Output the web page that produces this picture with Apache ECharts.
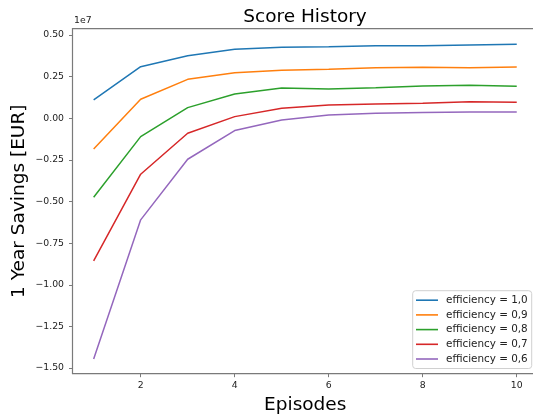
<!DOCTYPE html>
<html>
<head>
<meta charset="utf-8">
<script src="https://cdn.jsdelivr.net/npm/echarts@6/dist/echarts.min.js"></script>
<style>
  html, body { margin: 0; padding: 0; background: #fff; overflow: hidden; }
  /* the plot area runs slightly past the right edge of the window */
  #chart { width: 540px; height: 418px; }
</style>
</head>
<body>
<div id="chart"></div>
<script>
// Episodes on the x axis
const episodes = [1, 2, 3, 4, 5, 6, 7, 8, 9, 10];

// One year savings in EUR per efficiency level
const eff10 = [1100000, 3100000, 3760000, 4140000, 4260000, 4300000, 4360000, 4360000, 4400000, 4440000];
const eff09 = [-1840000, 1140000, 2340000, 2740000, 2880000, 2940000, 3040000, 3060000, 3040000, 3080000];
const eff08 = [-4740000, -1100000, 640000, 1460000, 1820000, 1760000, 1840000, 1940000, 1980000, 1920000];
const eff07 = [-8560000, -3360000, -900000, 100000, 600000, 800000, 860000, 900000, 1000000, 960000];
const eff06 = [-14460000, -6100000, -2460000, -740000, -100000, 200000, 300000, 340000, 380000, 380000];

const seriesNames = ['efficiency = 1,0', 'efficiency = 0,9', 'efficiency = 0,8', 'efficiency = 0,7', 'efficiency = 0,6'];
const seriesData = [eff10, eff09, eff08, eff07, eff06];
const colors = ['#1f77b4', '#ff7f0e', '#2ca02c', '#d62728', '#9467bd'];

// Tick positions
const xTicks = [2, 4, 6, 8, 10];
const yTicks = [-15000000, -12500000, -10000000, -7500000, -5000000, -2500000, 0, 2500000, 5000000];

const FONT = 'DejaVu Sans';
const spine = '#7a7a7a';

const chart = echarts.init(document.getElementById('chart'), null, { renderer: 'canvas' });

chart.setOption({
  animation: false,
  color: colors,
  textStyle: { fontFamily: FONT },
  title: {
    text: 'Score History',
    left: 305, top: 7.5, padding: 0,
    textAlign: 'center',
    textStyle: { fontFamily: FONT, fontSize: 18.5, fontWeight: 'normal', color: '#000' }
  },
  graphic: [{
    type: 'text', left: 74, top: 16,
    style: { text: '1e7', font: '9.3px "DejaVu Sans"', fill: '#222' }
  }],
  // plot frame drawn by the grid border
  grid: {
    left: 72.5, top: 28.7, width: 465.4, height: 345,
    show: true, borderColor: spine, borderWidth: 1.2,
    backgroundColor: 'transparent',
    outerBoundsMode: 'none', containLabel: false
  },
  legend: {
    orient: 'vertical',
    left: 412.7, top: 290.7,
    padding: [3.5, 4, 3.5, 3.3],
    itemWidth: 22, itemHeight: 1.6, itemGap: 2.7,
    icon: 'rect',
    backgroundColor: 'rgba(255,255,255,0.85)',
    borderColor: '#d0d0d0', borderWidth: 1, borderRadius: 3,
    textStyle: { fontFamily: FONT, fontSize: 10.4, color: '#222', lineHeight: 12, padding: [0, 0, 0, 3] },
    data: seriesNames
  },
  xAxis: {
    type: 'value',
    min: 0.55, max: 10.45,
    name: 'Episodes',
    nameLocation: 'middle', nameGap: 22, nameMoveOverlap: false,
    nameTextStyle: { fontFamily: FONT, fontSize: 18.5, color: '#000' },
    axisLine: { show: false, onZero: false },
    axisTick: { show: true, length: 3.5, customValues: xTicks, lineStyle: { color: spine, width: 1 } },
    axisLabel: { customValues: xTicks, fontFamily: FONT, fontSize: 9.3, color: '#222', margin: 7 },
    splitLine: { show: false }
  },
  yAxis: {
    type: 'value',
    min: -15340000, max: 5380000,
    name: '1 Year Savings [EUR]',
    nameLocation: 'middle', nameGap: 44, nameMoveOverlap: false,
    nameTextStyle: { fontFamily: FONT, fontSize: 18.5, color: '#000' },
    axisLine: { show: false, onZero: false },
    axisTick: { show: true, length: 3.5, customValues: yTicks, lineStyle: { color: spine, width: 1 } },
    axisLabel: {
      customValues: yTicks, fontFamily: FONT, fontSize: 9.3, color: '#222', margin: 8.5,
      formatter: v => {
        const s = (v / 1e7).toFixed(2);
        return s.startsWith('-') ? '\u2212' + s.slice(1) : s;
      }
    },
    splitLine: { show: false }
  },
  series: seriesData.map((vals, i) => ({
    type: 'line',
    name: seriesNames[i],
    data: episodes.map((e, j) => [e, vals[j]]),
    showSymbol: false,
    symbol: 'none',
    lineStyle: { width: 1.5, color: colors[i] },
    itemStyle: { color: colors[i] }
  }))
});
</script>
</body>
</html>
